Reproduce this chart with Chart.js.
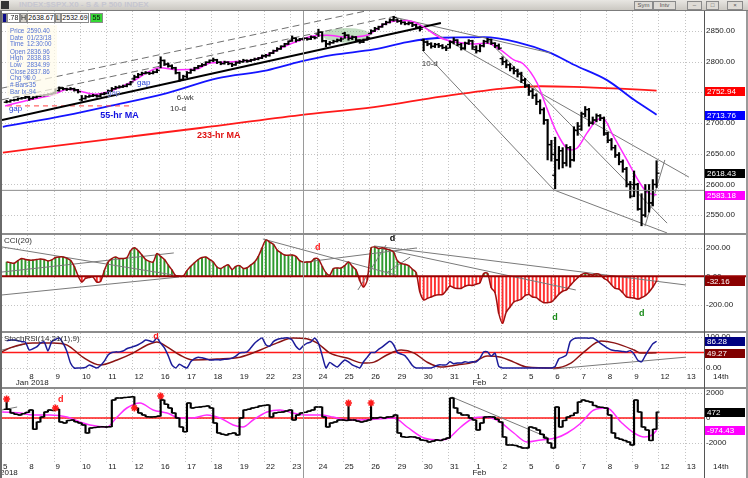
<!DOCTYPE html>
<html>
<head>
<meta charset="utf-8">
<title>S&amp;P 500 hourly</title>
<script src="https://cdn.jsdelivr.net/npm/chart.js@4.4.1/dist/chart.umd.min.js"></script>
<style>
  html, body { margin:0; padding:0; background:#fff; }
  body { width:748px; height:478px; position:relative; overflow:hidden; font-family:"Liberation Sans", Arial, sans-serif; }
  .pane { position:absolute; left:0; }
  .sep { position:absolute; left:0; width:748px; height:2px; background:#8c8c8c; }
  #titlebar { position:absolute; left:0; top:0; width:748px; height:10px; background:linear-gradient(#e8e6e2,#cbc8c2); border-bottom:1px solid #7c7c7c; }
  #titlebar .ttl { position:absolute; left:19px; top:0; font:bold 8px/10px "Liberation Sans", Arial, sans-serif; color:#c6c6d0; }
  #titlebar .ico { position:absolute; left:1px; top:1px; width:8px; height:8px; background:#333; }
  #titlebar .btn { position:absolute; top:1px; height:7px; border:1px solid #8a8a8a; background:#dedbd6; font:6px/7px "Liberation Sans", Arial, sans-serif; color:#555; text-align:center; }
  .lg { position:absolute; top:13px; height:10px; font:7px/8px "Liberation Sans", Arial, sans-serif; color:#111; border:1px solid #8a8a8a; box-sizing:border-box; padding:0; text-align:center; overflow:hidden; white-space:nowrap; }
  #info { position:absolute; left:7px; top:25px; width:50px; height:71px; background:rgba(255,251,234,0.72); }
  #info span { position:absolute; font:6.3px/7px "Liberation Sans", Arial, sans-serif; color:#5473d4; white-space:nowrap; }
</style>
</head>
<body>
<div id="titlebar">
  <div class="ico"></div>
  <div class="ttl">INDEX:$SPX.X0 - S &amp; P 500 INDEX</div>
  <div class="btn" style="left:634px;width:17px">Sym</div>
  <div class="btn" style="left:653px;width:21px">Intv</div>
  <div class="btn" style="left:687px;width:13px">&ndash;</div>
  <div class="btn" style="left:706px;width:11px">&#9633;</div>
  <div class="btn" style="left:727px;width:14px">&times;</div>
</div>

<div class="pane" style="top:11px"><canvas id="cPrice" width="748" height="224"></canvas></div>
<div class="pane" style="top:235px"><canvas id="cCci" width="748" height="97"></canvas></div>
<div class="pane" style="top:333px"><canvas id="cStoch" width="748" height="56"></canvas></div>
<div class="pane" style="top:389px"><canvas id="cTick" width="748" height="89"></canvas></div>

<div class="sep" style="top:233px"></div>
<div class="sep" style="top:331px"></div>
<div class="sep" style="top:387px"></div>
<div style="position:absolute;left:704px;top:11px;width:1px;height:467px;background:#555"></div>
<div style="position:absolute;left:0;top:11px;width:2px;height:467px;background:#6a6a6a"></div>
<div style="position:absolute;left:746px;top:11px;width:2px;height:467px;background:#9a9a9a"></div>

<div class="lg" style="left:2px;width:5px;background:#0a0a8a"></div>
<div class="lg" style="left:7px;width:13px;background:#fff">.78</div>
<div class="lg" style="left:20px;width:7px;background:#d6d3cd">H</div>
<div class="lg" style="left:27px;width:28px;background:#fff">2638.67</div>
<div class="lg" style="left:55px;width:6px;background:#d6d3cd">L</div>
<div class="lg" style="left:61px;width:28px;background:#fff">2532.69</div>
<div class="lg" style="left:90px;width:13px;background:#35d835">55</div>

<div id="info">
  <span style="left:3px;top:2px">Price</span><span style="left:20px;top:2px">2590.40</span>
  <span style="left:3px;top:9px">Date</span><span style="left:20px;top:9px">01/23/18</span>
  <span style="left:3px;top:15px">Time</span><span style="left:20px;top:15px">12:30:00</span>
  <span style="left:3px;top:23px">Open</span><span style="left:20px;top:23px">2836.96</span>
  <span style="left:3px;top:29px">High</span><span style="left:20px;top:29px">2838.83</span>
  <span style="left:3px;top:36px">Low</span><span style="left:20px;top:36px">2834.99</span>
  <span style="left:3px;top:43px">Close</span><span style="left:20px;top:43px">2837.86</span>
  <span style="left:3px;top:49px">Chg %</span><span style="left:20px;top:49px">0.0</span>
  <span style="left:3px;top:56px"># Bars</span><span style="left:20px;top:56px">-35</span>
  <span style="left:3px;top:63px">Bar Ix</span><span style="left:20px;top:63px">-94</span>
</div>

<script>
const FONT = '"Liberation Sans", Arial, sans-serif';

// ---------- data ----------
// trading days shown on the time axis (7 hourly slots per day)
const dayLabels = ['5','8','9','10','11','12','16','17','18','19','22','23','24','25','26','29','30','31','1','2','5','6','7','8','9','12','13','14th'];
const firstSlot = 1;            // Jan 5 starts at its second hourly slot
const barsFirstDay = 6;

// open of the first hourly bar of each day
const dayOpen = [2734,2742,2750,2738,2749,2772,2798,2776,2802,2799,2809,2835,2845,2846,2846,2868,2835,2828,2820,2805,2760,2615,2690,2684,2600];

const priceClose = [
  2735,2737,2738,2740,2741,2743,
  2740,2742,2744,2745,2746,2747,2748,
  2753,2757,2756,2755,2756,2754,2751,
  2740,2743,2744,2745,2744,2747,2748,
  2752,2756,2758,2759,2760,2763,2767,
  2775,2779,2781,2782,2781,2783,2786,
  2802,2796,2793,2790,2782,2771,2776,
  2782,2786,2790,2793,2795,2799,2802,
  2803,2799,2797,2799,2797,2795,2798,
  2800,2802,2801,2803,2804,2806,2810,
  2810,2814,2818,2821,2825,2829,2833,
  2838,2835,2837,2838,2837,2840,2839,
  2848,2834,2829,2831,2833,2835,2837,
  2843,2838,2840,2835,2832,2836,2839,
  2850,2854,2857,2861,2864,2868,2872,
  2866,2864,2862,2863,2860,2856,2853,
  2832,2829,2825,2828,2826,2823,2822,
  2832,2835,2828,2822,2830,2834,2824,
  2818,2826,2833,2836,2830,2826,2822,
  2800,2795,2789,2785,2780,2770,2762,
  2752,2745,2735,2722,2705,2665,2649,
  2640,2655,2635,2660,2640,2688,2695,
  2715,2722,2700,2705,2712,2708,2682,
  2672,2660,2648,2637,2625,2600,2581,
  2600,2560,2550,2590,2570,2600,2618.43
];
const priceHigh = [
  2737,2738,2739,2741,2742,2744,
  2744,2743,2745,2746,2747,2748,2749,
  2756,2759,2758,2757,2758,2757,2755,
  2745,2745,2746,2747,2746,2748,2750,
  2754,2758,2760,2761,2762,2764,2768,
  2778,2781,2783,2784,2783,2785,2788,
  2808,2803,2798,2795,2791,2783,2778,
  2784,2788,2791,2794,2797,2800,2803,
  2806,2804,2800,2801,2800,2798,2800,
  2802,2804,2803,2804,2806,2807,2811,
  2812,2815,2819,2823,2826,2830,2834,
  2842,2839,2838,2839,2839,2842,2841,
  2853,2849,2835,2833,2835,2837,2839,
  2848,2844,2842,2841,2836,2837,2841,
  2852,2856,2858,2862,2866,2870,2874,
  2870,2868,2865,2865,2864,2861,2858,
  2837,2834,2831,2830,2830,2828,2826,
  2834,2839,2836,2830,2832,2836,2835,
  2826,2828,2835,2838,2837,2831,2829,
  2808,2803,2797,2792,2788,2783,2773,
  2763,2756,2748,2738,2725,2706,2672,
  2677,2662,2660,2665,2662,2694,2701,
  2718,2727,2724,2710,2715,2714,2710,
  2685,2675,2664,2652,2640,2628,2605,
  2622,2602,2585,2600,2600,2608,2638.67
];
const priceLow = [
  2733,2734,2736,2737,2739,2740,
  2737,2739,2741,2743,2744,2745,2746,
  2748,2752,2754,2753,2754,2752,2749,
  2736,2739,2742,2743,2742,2743,2746,
  2748,2751,2755,2757,2758,2759,2762,
  2770,2774,2778,2780,2779,2780,2782,
  2790,2794,2791,2788,2780,2768,2770,
  2774,2781,2785,2789,2792,2794,2798,
  2800,2797,2795,2796,2795,2792,2794,
  2797,2799,2799,2800,2802,2803,2805,
  2807,2809,2813,2817,2820,2824,2828,
  2833,2832,2834,2835,2835,2836,2837,
  2841,2832,2824,2827,2830,2832,2833,
  2838,2835,2836,2833,2830,2831,2835,
  2845,2849,2852,2856,2860,2863,2866,
  2864,2861,2860,2860,2857,2854,2850,
  2818,2826,2822,2823,2823,2821,2818,
  2822,2829,2826,2819,2820,2828,2820,
  2814,2816,2824,2830,2828,2823,2820,
  2795,2790,2785,2780,2775,2766,2758,
  2745,2740,2730,2715,2698,2640,2638,
  2593,2625,2627,2630,2628,2638,2680,
  2688,2710,2695,2698,2702,2704,2680,
  2668,2656,2644,2632,2620,2596,2578,
  2580,2558,2532.69,2547,2555,2565,2595
];

// moving averages (slot position, value)
const maFastX = [1.1,7.7,13.8,17.8,21,25,29,32.2,35.7,39.1,42.3,46.9,52.2,55.6,61.8,67.1,70.8,75.1,79.6,83,86.8,92.1,97.4,102.7,108.1,111.5,116.9,120.8,126.2,129.4,132.8,136.5,138.9,142.7,145.3,148,151.5,153.3,156,158.6,160.2,162.9,166.6,170.1,172,174.5];
const maFastY = [2728,2738,2746,2755,2752,2747,2752,2760,2770,2783,2790,2787,2788,2798,2800,2803,2811,2824,2835,2842,2843,2840,2843,2863,2867,2860,2839,2832,2829,2830,2820,2803,2797,2765,2724,2684,2656,2659,2684,2705,2708,2680,2640,2602,2587,2583.18];
const ma55X = [0.5,17.6,29,44.2,57.5,70.8,79.6,88.4,99.3,108.1,117.1,128.6,137.3,146.4,152.5,161.3,168.5,174.5];
const ma55Y = [2694,2713,2728,2749,2773,2786,2800,2811,2820,2832,2839,2840,2832,2814,2795,2770,2738,2713.76];
const ma233X = [0.5,26.4,53,79.6,99.3,117.1,134.7,143.7,152.5,164.8,174.5];
const ma233Y = [2652,2672,2692,2713,2726,2743,2757,2760,2759,2756,2752.94];

const cci = [
  100,96,92,110,125,118,
  114,114,118,121,118,108,115,
  132,136,136,128,112,70,5,
  -40,-15,-8,-5,-40,-35,40,
  100,125,135,125,125,130,180,
  200,180,150,118,105,100,160,
  140,118,80,45,5,0,2,
  40,70,95,118,132,135,118,
  100,65,55,70,80,48,70,
  75,55,60,80,100,140,200,
  255,240,225,185,165,150,148,
  150,140,110,100,100,102,125,
  120,70,25,8,55,58,58,
  75,100,70,45,-30,-75,-25,
  200,206,195,200,192,185,170,
  110,90,85,75,50,25,-110,
  -165,-155,-145,-135,-130,-128,-100,
  -68,-80,-85,-85,-70,-62,-65,
  -55,-45,20,20,-80,-115,-260,
  -330,-250,-215,-180,-170,-160,-135,
  -128,-145,-150,-170,-185,-185,-180,
  -155,-125,-105,-95,-65,-35,-10,
  12,22,15,10,18,10,-15,
  -30,-60,-85,-90,-115,-145,-150,
  -152,-160,-150,-135,-110,-75,-32.16
];

const stochK = [
  88,90,90,88,85,84,
  58,62,68,80,84,55,85,
  92,97,80,55,16,0,0,
  0,2,10,5,0,8,22,
  42,50,52,52,55,62,66,
  70,75,82,90,88,84,97,
  80,65,40,10,0,12,5,
  0,20,30,35,33,30,26,
  26,27,26,28,29,32,38,
  48,50,52,65,80,90,97,
  75,70,85,92,95,97,97,
  90,70,60,72,80,84,97,
  80,40,0,18,10,3,15,
  26,20,10,5,0,20,35,
  50,50,60,68,78,86,75,
  50,45,40,25,8,0,0,
  0,0,0,5,10,10,10,
  20,14,16,16,20,18,20,
  20,32,52,52,38,48,5,
  0,0,0,0,0,0,0,
  0,0,0,0,0,0,0,
  5,30,35,42,85,95,97,
  97,97,96,97,90,80,72,
  64,58,56,55,53,52,56,
  45,25,20,40,60,78,86.28
];
const stochDX = [0.3,2.4,8.5,13.8,17.6,21.8,26.4,30.9,35.1,38.9,41.5,44.2,47.6,51.1,57.5,63.6,69,73.5,77.7,81.4,84.1,87.6,92.1,96.4,99.3,102.7,106.5,110,113.4,117.1,121.4,125.9,129.4,133.1,136.5,140,147.2,151.7,155.2,159.7,163.2,168.5,170.3,174.5];
const stochDY = [52,65,81,81,74,35,10,26,48,74,84,68,42,26,29,35,58,81,97,94,81,48,32,16,19,42,58,48,19,3,10,19,39,35,19,3,0,16,52,87,81,58,48,49.27];

// lower breadth panel (hourly closes) and its average
const breadth = [
  700,400,300,240,350,450,
  640,-900,-320,80,480,640,600,
  700,-320,-400,-200,-160,-300,-400,
  -560,-1200,-800,-760,-720,-700,-720,
  -700,1440,1600,1600,1640,1660,1700,
  800,400,240,100,80,100,150,
  1440,1100,800,400,0,-720,-1100,
  1200,800,850,880,920,960,800,
  -400,-1200,-1300,-1360,-1250,-1200,-1360,
  0,640,700,800,850,960,1000,
  1040,80,400,450,480,560,640,
  -160,240,400,450,550,640,880,
  880,80,-720,-400,-320,-160,-160,
  -200,-160,-160,-250,-320,-250,-160,
  0,0,50,0,80,100,240,
  -1200,-1500,-1550,-1500,-1520,-1600,-1760,
  -1800,-1920,-1850,-1760,-1800,-1700,-1600,
  1600,800,400,240,240,0,-160,
  -960,-400,80,100,80,-100,-320,
  -1520,-2160,-2160,-2200,-2300,-2400,-2400,
  -720,-800,-960,-1300,-1600,-2000,-2400,
  880,-720,-200,80,200,400,1280,
  1440,1350,1280,1000,880,850,800,
  240,-1200,-1600,-1700,-1800,-1920,-2160,
  1440,480,-720,-960,-1800,-900,472
];
const breadthMaX = [0.3,5.1,8.5,13,17.6,21,23.7,28.2,30.9,33.5,37,40.5,44.2,47.6,51.1,54.8,58.3,61.8,64.4,67.1,70.8,74.3,77.7,81.5,84.9,88.4,92.1,95.6,99.3,104.6,108.1,112.6,117.1,119.2,122.4,125.9,128.6,132,136.5,140,143.7,147.7,150.7,154.4,157.8,161.3,165,168.5,171.2,173.3,174.5];
const breadthMaY = [480,400,240,240,80,-320,-560,-720,80,800,1200,640,400,0,0,240,0,-560,-720,-160,480,640,400,240,240,80,-160,-160,-100,0,-720,-1600,-1760,-1600,-720,0,80,-160,-1200,-1920,-1760,-1600,-1200,-400,640,800,-320,-1200,-1520,-1360,-974.43];
const starBars = [0,13,34,41,91,97];
const starVals = [1520,800,800,1760,1200,1200];

const priceTicks = [2550,2600,2650,2700,2750,2800,2850];
const cciTicks = [-200,0,200];
const stochTicks = [0,100];
const breadthTicks = [-2000,0,2000];

const cursorBar = 79;         // Jan 23 12:30
const cursorPrice = 2590.40;

// ---------- helpers ----------
const slot = i => firstSlot + i + 0.5;
const dayOf = i => i < barsFirstDay ? 0 : 1 + Math.floor((i - barsFirstDay) / 7);
const isDayStart = i => i === 0 || (i >= barsFirstDay && (i - barsFirstDay) % 7 === 0);
const zip = (xs, ys) => xs.map((x, k) => ({x, y: ys[k]}));
const last = a => a[a.length - 1];

function seg(pts, color, width, dash) {
  return { type:'line', data: pts.map(([x, y]) => ({x, y})), borderColor: color, borderWidth: width,
           borderDash: dash || [], pointRadius: 0, tension: 0, fill: false };
}
function smooth(data, color, width) {
  return { type:'line', data, borderColor: color, borderWidth: width, pointRadius: 0,
           cubicInterpolationMode: 'monotone', fill: false };
}
function tickMarks(data, color) {
  return { type:'line', data, showLine: false, pointStyle: 'line', pointRadius: 1.5,
           pointBorderWidth: 1.3, borderColor: color, pointBorderColor: color, backgroundColor: color };
}
function rangeBars(data, color) {
  return { type:'bar', data, grouped: false, barThickness: 1.5, backgroundColor: color, borderWidth: 0 };
}

function baseOptions(yMin, yMax, yTicks, fmt, padBottom) {
  return {
    responsive: false, animation: false, events: [],
    layout: { padding: { left: 2, right: 0, top: 0, bottom: padBottom }, autoPadding: false },
    plugins: { legend: { display: false }, tooltip: { enabled: false } },
    scales: {
      x: { type: 'linear', min: 0.27, max: 187.12, offset: false, display: false },
      y: {
        position: 'right', min: yMin, max: yMax,
        afterBuildTicks: s => { s.ticks = yTicks.map(v => ({ value: v })); },
        afterFit: s => { s.width = 44; s.paddingTop = 0; s.paddingBottom = 0; },
        grid: { display: false, drawTicks: false }, border: { display: false },
        ticks: { autoSkip: false, padding: 2, color: '#1a1a1a', font: { family: FONT, size: 8 }, callback: fmt }
      }
    }
  };
}

function drawGrid(chart, yTicks) {
  const { ctx, chartArea: a, scales: { x, y } } = chart;
  ctx.save();
  ctx.strokeStyle = '#c4c4c4'; ctx.lineWidth = 1; ctx.setLineDash([1, 2]);
  yTicks.forEach(v => {
    const p = Math.round(y.getPixelForValue(v)) + 0.5;
    ctx.beginPath(); ctx.moveTo(a.left, p); ctx.lineTo(a.right, p); ctx.stroke();
  });
  for (let d = 1; d * 7 < x.max; d++) {
    const p = Math.round(x.getPixelForValue(d * 7)) + 0.5;
    ctx.beginPath(); ctx.moveTo(p, a.top); ctx.lineTo(p, a.bottom); ctx.stroke();
  }
  ctx.restore();
}
function hLine(chart, v, color, width, toEdge) {
  const { ctx, chartArea: a, scales: { y } } = chart;
  const p = y.getPixelForValue(v);
  ctx.save(); ctx.strokeStyle = color; ctx.lineWidth = width;
  ctx.beginPath(); ctx.moveTo(a.left, p); ctx.lineTo(toEdge ? chart.width - 2 : a.right, p); ctx.stroke();
  ctx.restore();
}
function vCross(chart) {
  const { ctx, scales: { x } } = chart;
  const p = Math.round(x.getPixelForValue(slot(cursorBar))) + 0.5;
  ctx.save(); ctx.strokeStyle = '#9a9a9a'; ctx.lineWidth = 1;
  ctx.beginPath(); ctx.moveTo(p, 0); ctx.lineTo(p, chart.height); ctx.stroke();
  ctx.restore();
}
function drawTexts(chart, list) {
  const { ctx, scales: { x, y } } = chart;
  ctx.save(); ctx.textBaseline = 'middle'; ctx.textAlign = 'left';
  list.forEach(t => {
    ctx.font = t.font; ctx.fillStyle = t.color;
    ctx.fillText(t.text, x.getPixelForValue(t.x), y.getPixelForValue(t.y));
  });
  ctx.restore();
}
function drawTitle(chart, text) {
  const { ctx, chartArea: a } = chart;
  ctx.save(); ctx.font = '8px ' + FONT; ctx.fillStyle = '#333'; ctx.textBaseline = 'top';
  ctx.fillText(text, a.left + 2, a.top + 2);
  ctx.restore();
}
function drawTags(chart, list) {
  const { ctx, chartArea: a, scales: { y } } = chart;
  ctx.save(); ctx.font = '8px ' + FONT; ctx.textBaseline = 'middle'; ctx.textAlign = 'left';
  list.forEach(t => {
    const p = Math.round(y.getPixelForValue(t.v));
    ctx.fillStyle = t.bg; ctx.fillRect(a.right + 1, p - 4, 40, 9);
    ctx.fillStyle = '#fff'; ctx.fillText(t.text, a.right + 3, p + 0.5);
  });
  ctx.restore();
}
function drawDates(chart, from, row2, off1, off2) {
  const { ctx, chartArea: a, scales: { x } } = chart;
  ctx.save(); ctx.font = '8px ' + FONT; ctx.fillStyle = '#1a1a1a'; ctx.textBaseline = 'middle';
  ctx.textAlign = 'left';
  for (let d = from; d < dayLabels.length; d++) ctx.fillText(dayLabels[d], x.getPixelForValue(d * 7) + 2, a.bottom + off1);
  ctx.textAlign = 'center';
  row2.forEach(([d, s]) => {
    const w = ctx.measureText(s).width;
    ctx.fillText(s, Math.max(w / 2, x.getPixelForValue(d * 7) + 5), a.bottom + off2);
  });
  ctx.restore();
}

// ---------- price panel ----------
const priceBars = priceClose.map((c, i) => ({ x: slot(i), y: [priceLow[i], priceHigh[i]] }));
const priceOpen = priceClose.map((c, i) => isDayStart(i) ? dayOpen[dayOf(i)] : priceClose[i - 1]);
const closeTicks = priceClose.map((c, i) => ({ x: slot(i) + 0.38, y: c }));
const openTicks = priceOpen.map((o, i) => ({ x: slot(i) - 0.38, y: o }));

new Chart(document.getElementById('cPrice'), {
  type: 'line',
  data: { datasets: [
    tickMarks(closeTicks, '#000'),
    tickMarks(openTicks, '#000'),
    rangeBars(priceBars, '#000'),
    smooth(zip(maFastX, maFastY), '#ff2cff', 1.5),
    seg([[0.27,2705],[117.1,2863]], '#000', 2),
    seg([[0.27,2757],[98.2,2884]], '#707070', 1, [7,4]),
    seg([[0.27,2738],[104.9,2874]], '#707070', 1, [7,4]),
    seg([[104.3,2873],[146.4,2814]], '#7a7a7a', 1),
    seg([[110.7,2863],[183.1,2612]], '#7a7a7a', 1),
    seg([[128.8,2840],[177.3,2537]], '#7a7a7a', 1),
    seg([[112.1,2819],[147.2,2591],[177.3,2521]], '#7a7a7a', 1),
    seg([[171.4,2532],[176.7,2640]], '#7a7a7a', 1),
    seg([[1.6,2728],[35.1,2728]], '#ff4040', 1, [5,4]),
    smooth(zip(ma55X, ma55Y), '#1414ff', 1.8),
    smooth(zip(ma233X, ma233Y), '#ff1a1a', 1.8)
  ]},
  options: baseOptions(2517.7, 2882.6, priceTicks, v => v.toFixed(2), 0),
  plugins: [{
    id: 'priceDeco',
    beforeDatasetsDraw(chart) {
      drawGrid(chart, priceTicks);
      const { ctx, scales: { x, y } } = chart;
      const cx = x.getPixelForValue(92), cy = y.getPixelForValue(2843);
      const rx = Math.abs(x.getPixelForValue(98.25) - cx), ry = Math.abs(y.getPixelForValue(2855) - cy);
      ctx.save(); ctx.fillStyle = 'rgba(120,180,120,0.45)';
      ctx.beginPath(); ctx.ellipse(cx, cy, rx, ry, 0, 0, Math.PI * 2); ctx.fill(); ctx.restore();
    },
    afterDatasetsDraw(chart) { hLine(chart, cursorPrice, '#8c8c8c', 1); },
    afterDraw(chart) {
      vCross(chart);
      drawTexts(chart, [
        { x: 2.1, y: 2724, text: 'gap', color: '#2a46d8', font: '8px ' + FONT },
        { x: 28.2, y: 2749, text: 'gap', color: '#7080e0', font: '8px ' + FONT },
        { x: 36.2, y: 2765, text: 'gap', color: '#2a46d8', font: '8px ' + FONT },
        { x: 26.4, y: 2713, text: '55-hr MA', color: '#1010e0', font: 'bold 9px ' + FONT },
        { x: 52.2, y: 2680, text: '233-hr MA', color: '#e01010', font: 'bold 9px ' + FONT },
        { x: 46.8, y: 2742, text: '6-wk', color: '#333', font: '8px ' + FONT },
        { x: 45, y: 2723, text: '10-d', color: '#333', font: '8px ' + FONT },
        { x: 112, y: 2796, text: '10-d', color: '#333', font: '8px ' + FONT }
      ]);
      drawTags(chart, [
        { v: last(ma233Y), text: last(ma233Y).toFixed(2), bg: '#ff0000' },
        { v: last(ma55Y), text: last(ma55Y).toFixed(2), bg: '#0000ff' },
        { v: last(priceClose), text: last(priceClose).toFixed(2), bg: '#000' },
        { v: last(maFastY), text: last(maFastY).toFixed(2), bg: '#ff00ff' }
      ]);
    }
  }]
});

// ---------- CCI panel ----------
new Chart(document.getElementById('cCci'), {
  type: 'line',
  data: { datasets: [
    { type: 'line', data: cci.map((v, i) => ({ x: slot(i), y: v })), borderColor: '#9e1010', borderWidth: 1.5, pointRadius: 0, tension: 0.3, fill: false },
    seg([[0.27,206],[47.6,2]], '#7a7a7a', 1),
    seg([[0.27,30],[46,164]], '#7a7a7a', 1),
    seg([[0.27,-131],[47.4,-5]], '#7a7a7a', 1),
    seg([[69.7,262],[105.1,9]], '#7a7a7a', 1),
    seg([[95,-96],[102.5,220]], '#7a7a7a', 1),
    seg([[102.5,23],[108.9,135]], '#7a7a7a', 1),
    seg([[81,100],[110.7,199]], '#7a7a7a', 1),
    seg([[99.3,213],[182.3,-61]], '#7a7a7a', 1),
    seg([[100.6,199],[153,-96]], '#7a7a7a', 1),
    { type: 'bar', data: cci.map((v, i) => ({ x: slot(i), y: v })), grouped: false, barThickness: 1.3, borderWidth: 0,
      backgroundColor: c => (c.raw && c.raw.y >= 0) ? '#2f9a2f' : '#ff3030' }
  ]},
  options: baseOptions(-391, 290, cciTicks, v => v.toFixed(2), 0),
  plugins: [{
    id: 'cciDeco',
    beforeDatasetsDraw(chart) { drawGrid(chart, cciTicks); },
    afterDatasetsDraw(chart) { hLine(chart, 0, '#990000', 2, true); },
    afterDraw(chart) {
      vCross(chart);
      drawTitle(chart, 'CCI(20)');
      drawTexts(chart, [
        { x: 83.6, y: 199, text: 'd', color: '#ff1a1a', font: 'bold 9px ' + FONT },
        { x: 103.5, y: 268, text: 'd', color: '#000', font: 'bold 9px ' + FONT },
        { x: 146.7, y: -286, text: 'd', color: '#1a8a1a', font: 'bold 9px ' + FONT },
        { x: 169.8, y: -258, text: 'd', color: '#1a8a1a', font: 'bold 9px ' + FONT }
      ]);
      drawTags(chart, [{ v: last(cci), text: last(cci).toFixed(2), bg: '#8b0000' }]);
    }
  }]
});

// ---------- StochRSI panel ----------
new Chart(document.getElementById('cStoch'), {
  type: 'line',
  data: { datasets: [
    { type: 'line', data: stochK.map((v, i) => ({ x: slot(i), y: v })), borderColor: '#1c1c9a', borderWidth: 1.5, pointRadius: 0, tension: 0.2, fill: false },
    smooth(zip(stochDX, stochDY), '#8b1414', 1.5),
    seg([[147.2,-3],[182.3,35]], '#7a7a7a', 1),
    seg([[0.27,58],[6.4,77]], '#7a7a7a', 1)
  ]},
  options: baseOptions(-12.9, 112.9, stochTicks, v => v.toFixed(2), 17),
  plugins: [{
    id: 'stochDeco',
    beforeDatasetsDraw(chart) { drawGrid(chart, stochTicks); hLine(chart, 50, '#ff1a1a', 1.5); },
    afterDraw(chart) {
      vCross(chart);
      drawTitle(chart, 'StochRSI(14,21(1),9)');
      drawTexts(chart, [{ x: 40.5, y: 103, text: 'd', color: '#ff1a1a', font: 'bold 9px ' + FONT }]);
      drawTags(chart, [
        { v: last(stochK), text: last(stochK).toFixed(2), bg: '#000080' },
        { v: last(stochDY), text: last(stochDY).toFixed(2), bg: '#800000' }
      ]);
      drawDates(chart, 1, [[1, 'Jan 2018'], [18, 'Feb']], 5, 11);
    }
  }]
});

// ---------- breadth panel ----------
const bOpen = breadth.map((v, i) => i === 0 ? v : breadth[i - 1]);
const bBars = breadth.map((c, i) => ({ x: slot(i), y: [Math.min(c, bOpen[i]), Math.max(c, bOpen[i])] }));
const bClose = breadth.map((c, i) => ({ x: slot(i) + 0.38, y: c }));
const bOpenT = bOpen.map((o, i) => ({ x: slot(i) - 0.38, y: o }));
const stems = starBars.map((b, k) => ({ x: slot(b), y: [breadth[b], starVals[k]] }));
const stars = starBars.map((b, k) => ({ x: slot(b), y: starVals[k] }));

new Chart(document.getElementById('cTick'), {
  type: 'line',
  data: { datasets: [
    { type: 'line', data: stars, showLine: false, pointStyle: 'star', pointRadius: 3.5, pointBorderWidth: 1.6, pointBorderColor: '#ff1a1a', pointBackgroundColor: '#ff1a1a', borderColor: '#ff1a1a' },
    tickMarks(bClose, '#000'),
    tickMarks(bOpenT, '#000'),
    rangeBars(bBars, '#000'),
    rangeBars(stems, '#000'),
    smooth(zip(breadthMaX, breadthMaY), '#ff2cff', 1.5),
    seg([[120,1680],[145.3,-1520]], '#7a7a7a', 1),
    seg([[0.27,640],[4.3,880]], '#7a7a7a', 1)
  ]},
  options: baseOptions(-3600, 2320, breadthTicks, v => String(v), 15),
  plugins: [{
    id: 'breadthDeco',
    beforeDatasetsDraw(chart) { drawGrid(chart, breadthTicks); hLine(chart, 0, '#ff1a1a', 1.5); },
    afterDraw(chart) {
      vCross(chart);
      drawTexts(chart, [{ x: 15.2, y: 1440, text: 'd', color: '#ff1a1a', font: 'bold 9px ' + FONT }]);
      drawTags(chart, [
        { v: last(breadth), text: String(last(breadth)), bg: '#000' },
        { v: last(breadthMaY), text: last(breadthMaY).toFixed(2), bg: '#ff00ff' }
      ]);
      drawDates(chart, 0, [[0, '2018'], [18, 'Feb']], 4, 10);
    }
  }]
});
</script>
</body>
</html>
